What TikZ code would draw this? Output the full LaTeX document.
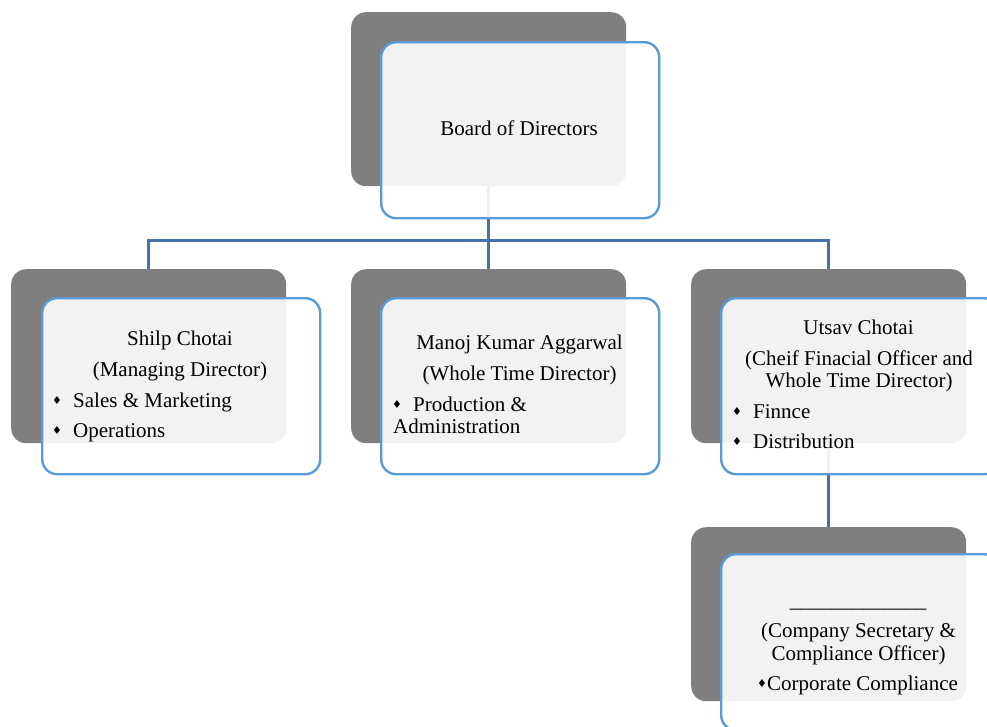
\documentclass[tikz,border=0pt]{standalone}
\usepackage{fontspec}
\setmainfont{Liberation Serif}
\newfontfamily\symfont{DejaVu Sans}
\definecolor{backgray}{RGB}{127,127,127}
\definecolor{boxblue}{RGB}{91,155,213}
\definecolor{linkblue}{RGB}{68,114,170}
\begin{document}
\begin{tikzpicture}[x=1pt,y=-1pt,
  backbox/.style={rectangle, rounded corners=15pt, fill=backgray, draw=none,
    minimum width=275pt, minimum height=174pt, inner sep=0pt, anchor=north west},
  frontbox/.style={rectangle, rounded corners=15pt, fill=white, fill opacity=0.9,
    draw=boxblue, line width=2.4pt, minimum width=278pt, minimum height=176pt,
    inner sep=0pt, anchor=north west},
  link/.style={draw=linkblue, line width=3pt},
  txt/.style={inner sep=0pt, font=\fontsize{21}{23}\selectfont},
  ctxt/.style={txt, anchor=base},
  ltxt/.style={txt, anchor=base west},
  bul/.style={inner sep=0pt, font=\symfont\fontsize{11}{11}\selectfont, anchor=center}
]
\useasboundingbox (0,0) rectangle (987,726);
\begin{scope}
\clip (0,0) rectangle (987,726);
% back boxes
\node[backbox] (d0) at (351,12) {};
\node[backbox] (d1) at (11,269) {};
\node[backbox] (d2) at (351,269) {};
\node[backbox] (d3) at (691,269) {};
\node[backbox] (d4) at (691,527) {};
% connectors
\coordinate (bus) at (488.5,240);
\draw[link] (d0.south) -- (d0.south |- bus);
\draw[link] (d1.north) |- (d3.north |- bus) -- (d3.north);
\draw[link] (d2.north) -- (d2.north |- bus);
\draw[link] (d3.south) -- (d4.north);
% front boxes
\node[frontbox] (f0) at (380,41) {};
\node[frontbox] (f1) at (41,297) {};
\node[frontbox] (f2) at (380,297) {};
\node[frontbox] (f3) at (720,297) {};
\node[frontbox] (f4) at (720,553) {};
\end{scope}
% texts
\node[ctxt] (t0) at (519,135) {Board of Directors};

\node[ctxt] (t1a) at (180,345) {Shilp Chotai};
\node[ctxt] (t1b) at (180,376) {(Managing Director)};
\node[bul] (b1c) at (57,400) {♦};
\node[ltxt] (t1c) at (73,407) {Sales \& Marketing};
\node[bul] (b1d) at (57,430) {♦};
\node[ltxt] (t1d) at (73,437) {Operations};

\node[ctxt] (t2a) at (519.5,349) {Manoj Kumar Aggarwal};
\node[ctxt] (t2b) at (519.5,380) {(Whole Time Director)};
\node[bul] (b2c) at (397,404) {♦};
\node[ltxt] (t2c) at (413,411) {Production \&};
\node[ltxt] (t2d) at (393,433) {Administration};

\node[ctxt] (t3a) at (858.5,334) {Utsav Chotai};
\node[ctxt] (t3b) at (859,365) {(Cheif Finacial Officer and};
\node[ctxt] (t3c) at (859,387) {Whole Time Director)};
\node[bul] (b3d) at (737,411) {♦};
\node[ltxt] (t3d) at (753,418) {Finnce};
\node[bul] (b3e) at (737,441) {♦};
\node[ltxt] (t3e) at (753,448) {Distribution};

\node[ctxt] (t4a) at (858,607) {\_\_\_\_\_\_\_\_\_\_\_\_\_};
\node[ctxt] (t4b) at (858.5,637) {(Company Secretary \&};
\node[ctxt] (t4c) at (858.5,660) {Compliance Officer)};
\node[bul] (b4d) at (762,683) {♦};
\node[ltxt] (t4d) at (767,690) {Corporate Compliance};
\end{tikzpicture}
\end{document}
